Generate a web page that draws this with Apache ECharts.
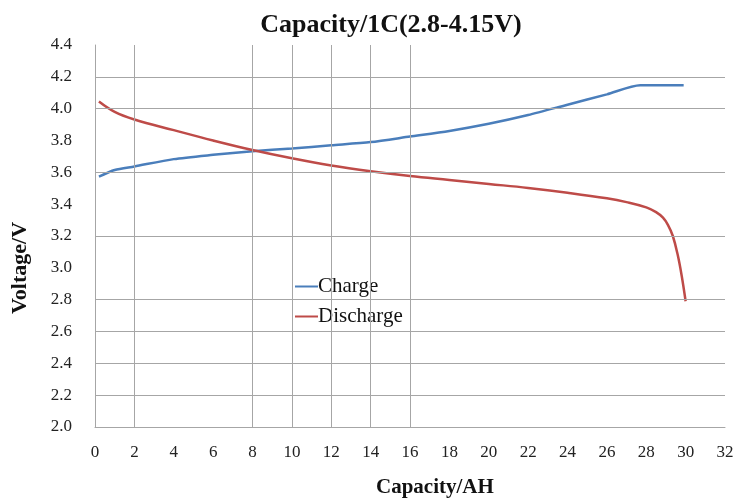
<!DOCTYPE html>
<html>
<head>
<meta charset="utf-8">
<script src="https://cdn.jsdelivr.net/npm/echarts@6/dist/echarts.min.js"></script>
<style>html,body{margin:0;padding:0;background:#fff}#c{width:739px;height:502px}</style>
</head>
<body>
<div id="c"></div>
<script>
var chargeX = [0.2, 1, 2, 4, 6, 8, 10, 12, 14, 16, 18, 20, 22, 24, 26, 27.7, 29.9];
var chargeY = [3.573, 3.615, 3.637, 3.683, 3.71, 3.733, 3.75, 3.77, 3.79, 3.825, 3.86, 3.905, 3.96, 4.025, 4.09, 4.147, 4.147];
var dischargeX = [0.2, 1, 2, 4, 6, 8, 10, 12, 14, 16, 18, 20, 22, 24, 26, 27, 28, 28.5, 28.85, 29.1, 29.35, 29.6, 29.8, 30.0];
var dischargeY = [4.045, 3.98, 3.932, 3.865, 3.8, 3.74, 3.688, 3.643, 3.607, 3.577, 3.552, 3.527, 3.502, 3.472, 3.437, 3.413, 3.38, 3.35, 3.315, 3.27, 3.2, 3.08, 2.95, 2.79];
var xGridLines = [2, 8, 10, 12, 14, 16];
var yGridLines = [2.2, 2.4, 2.6, 2.8, 3.2, 3.6, 4.0, 4.2];
var seriesNames = ['Charge', 'Discharge'];
var titleText = 'Capacity/1C(2.8-4.15V)';
var xName = 'Capacity/AH';
var yName = 'Voltage/V';

function pairs(xs, ys) { return xs.map(function (x, i) { return [x, ys[i]]; }); }

var serif = '"Liberation Serif", "DejaVu Serif", serif';
var gridColor = '#a6a6a6';

var chart = echarts.init(document.getElementById('c'), null, {renderer: 'canvas'});
chart.setOption({
  backgroundColor: '#fff',
  animation: false,
  title: {
    text: titleText,
    left: 386, top: 7, textAlign: 'center',
    textStyle: {fontFamily: serif, fontWeight: 'bold', fontSize: 26, color: '#111'}
  },
  graphic: [
    {type: 'text', left: 376, top: 477,
      style: {text: xName, fontFamily: serif, fontWeight: 'bold', fontSize: 21, fill: '#111'}},
    {type: 'text', x: 20, y: 268, rotation: Math.PI / 2,
      style: {text: yName, fontFamily: serif, fontWeight: 'bold', fontSize: 22, fill: '#111',
        align: 'center', verticalAlign: 'middle'}}
  ],
  grid: {left: 95, right: 14, top: 45, bottom: 75},
  legend: {
    orient: 'vertical', left: 290, top: 271, itemGap: 9,
    itemWidth: 23, itemHeight: 2, icon: 'rect',
    textStyle: {fontFamily: serif, fontSize: 21, color: '#111', padding: [0, 0, 0, -5]},
    data: seriesNames
  },
  xAxis: {
    type: 'value', min: 0, max: 32, interval: 2,
    axisLine: {show: true, lineStyle: {color: gridColor, width: 1}},
    axisTick: {show: false},
    splitLine: {show: false},
    axisLabel: {fontFamily: serif, fontSize: 17, color: '#222', margin: 17}
  },
  yAxis: {
    type: 'value', min: 2.0, max: 4.4, interval: 0.2,
    axisLine: {show: true, lineStyle: {color: gridColor, width: 1}},
    axisTick: {show: false},
    splitLine: {show: false},
    axisLabel: {fontFamily: serif, fontSize: 17, color: '#222', margin: 23,
      formatter: function (v) { return v.toFixed(1); }}
  },
  series: [
    {
      name: 'grid', type: 'line', data: [], silent: true,
      markLine: {
        silent: true, symbol: ['none', 'none'], animation: false,
        label: {show: false},
        lineStyle: {color: gridColor, width: 1, type: 'solid'},
        emphasis: {disabled: true},
        data: xGridLines.map(function (v) { return {xAxis: v}; })
          .concat(yGridLines.map(function (v) { return {yAxis: v}; }))
      }
    },
    {
      name: seriesNames[0], type: 'line', data: pairs(chargeX, chargeY),
      showSymbol: false, smooth: 0.25,
      lineStyle: {color: '#4a7ebb', width: 2.5}, itemStyle: {color: '#4a7ebb'}
    },
    {
      name: seriesNames[1], type: 'line', data: pairs(dischargeX, dischargeY),
      showSymbol: false, smooth: 0.4,
      lineStyle: {color: '#be4b48', width: 2.5}, itemStyle: {color: '#be4b48'}
    }
  ]
});
</script>
</body>
</html>
